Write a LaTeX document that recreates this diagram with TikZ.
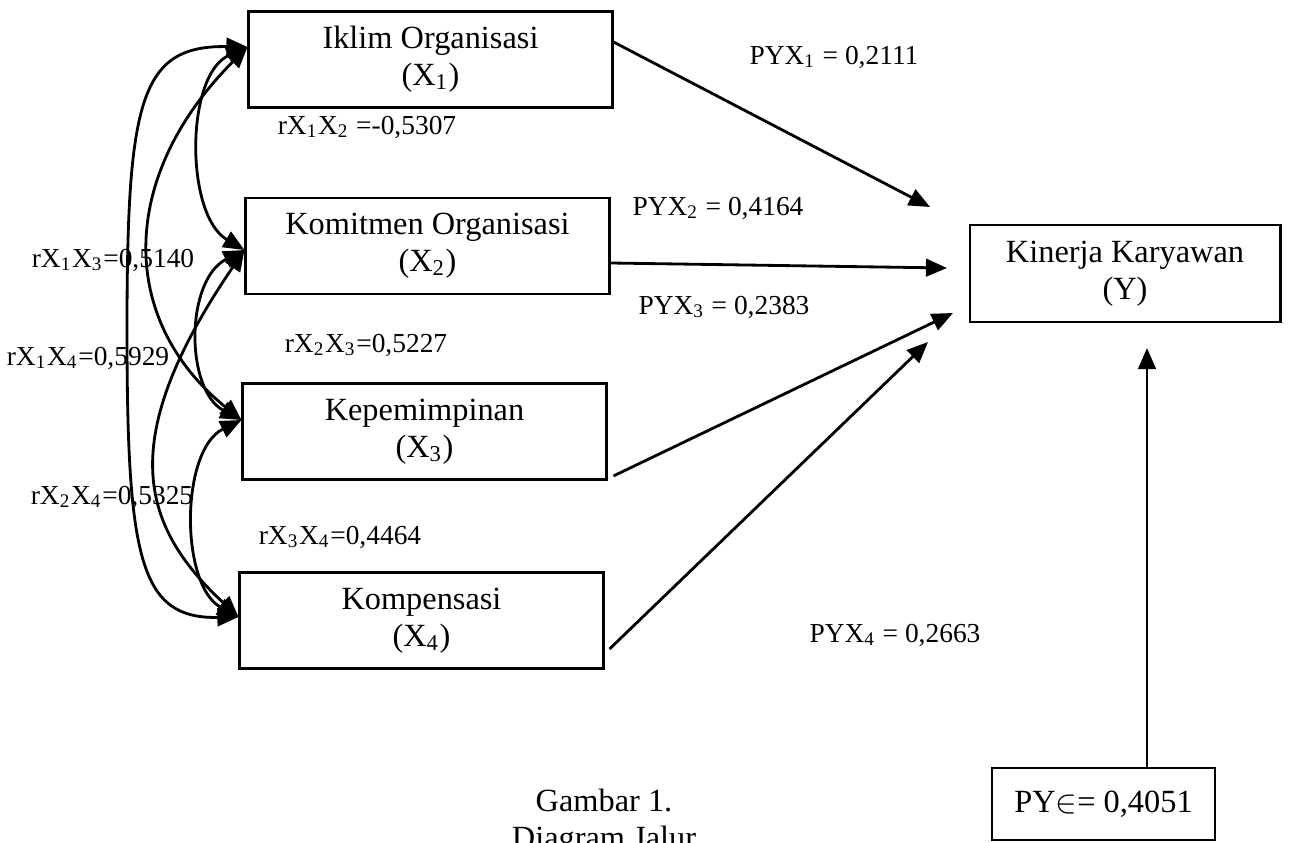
\documentclass[tikz,border=0pt]{standalone}
\usepackage{fontspec}
\setmainfont{Liberation Serif}
\usetikzlibrary{arrows.meta,positioning}

\newcommand\xs[1]{X\textsubscript{#1}}

\tikzset{
	var/.style={draw, line width=0.8pt, minimum width=3.63cm, minimum height=0.96cm,
		inner sep=0pt, align=center, font=\fontsize{9.2}{10.4}\selectfont},
	lbl/.style={inner sep=0pt, font=\fontsize{7.8}{9}\selectfont},
	pth/.style={line width=0.8pt, -{Triangle[length=6pt,width=5pt]}},
	corr/.style={line width=0.8pt, {Triangle[length=6pt,width=5pt]}-{Triangle[length=6pt,width=5pt]}},
}

\begin{document}
\begin{tikzpicture}[x=0.01cm, y=-0.01cm]
	\useasboundingbox (0,0) rectangle (1294,843);
	% Draw the variables
	\node[var] (x1) at (430.5,59.5)  {Iklim Organisasi\\(\xs{1})};
	\node[var] (x2) at (427.5,246)   {Komitmen Organisasi\\(\xs{2})};
	\node[var] (x3) at (424.5,431.5) {Kepemimpinan\\(\xs{3})};
	\node[var] (x4) at (421.5,620.5) {Kompensasi\\(\xs{4})};
	\node[var, minimum width=3.1cm, minimum height=0.97cm] (y) at (1125,273.5) {Kinerja Karyawan\\(Y)};
	\node[var, minimum width=2.23cm, minimum height=0.72cm] (e) at (1103.5,804) {PY$\in$= 0,4051};
	% Ends of the paths
	\coordinate (t1) at (930,207);
	\coordinate (t2) at (947,268);
	\coordinate (t3) at (953,313);
	\coordinate (t4) at (928,342);
	\coordinate (tE) at (1147,348);
	\coordinate (p1) at ([shift={(0,-12.5)}]x1.west);
	\coordinate (p2) at ([shift={(0,4)}]x2.west);
	\coordinate (p3) at ([shift={(0,-11.5)}]x3.west);
	\coordinate (p4) at ([shift={(0,-3.5)}]x4.west);
	% Paths to Y
	\draw[pth] ([shift={(0,-17.5)}]x1.east) -- (t1);
	\draw[pth] ([shift={(0,17)}]x2.east) -- (t2);
	\draw[pth] ([shift={(6,-5)}]x3.south east) -- (t3);
	\draw[pth] ([shift={(5,28.5)}]x4.east) -- (t4);
	\draw[pth] (e.north -| tE) -- (tE);
	% Correlations
	\draw[corr] (p1) .. controls (185,75) and (185,215) .. (p2);
	\draw[corr] (p2) .. controls (185,280) and (185,390) .. (p3);
	\draw[corr] (p3) .. controls (180,450) and (180,585) .. (p4);
	\draw[corr] (p1) .. controls (118,177) and (118,320) .. (p3);
	\draw[corr] (p2) .. controls (115,440) and (140,525) .. (p4);
	\draw[corr] (p1) .. controls (140,45) and (127,100) .. (127,330)
		.. controls (127,560) and (140,619) .. (p4);
	% Labels
	\node[lbl] (py1) at (834,57)  {PY\xs{1} = 0,2111};
	\node[lbl] (py2) at (718,208) {PY\xs{2} = 0,4164};
	\node[lbl] (py3) at (724,307) {PY\xs{3} = 0,2383};
	\node[lbl] (py4) at (895,635) {PY\xs{4} = 0,2663};
	\node[lbl] (r12) at (367,127) {r\xs{1}\xs{2} =-0,5307};
	\node[lbl] (r23) at (366,345) {r\xs{2}\xs{3}=0,5227};
	\node[lbl] (r34) at (340,537) {r\xs{3}\xs{4}=0,4464};
	\node[lbl] (r13) at (113,260) {r\xs{1}\xs{3}=0,5140};
	\node[lbl] (r14) at (88,358)  {r\xs{1}\xs{4}=0,5929};
	\node[lbl] (r24) at (112,497) {r\xs{2}\xs{4}=0,5325};
	% Caption
	\node[align=center, inner sep=0pt, font=\fontsize{9.2}{10.6}\selectfont] (cap) at (604,822) {Gambar 1.\\Diagram Jalur};
\end{tikzpicture}
\end{document}
